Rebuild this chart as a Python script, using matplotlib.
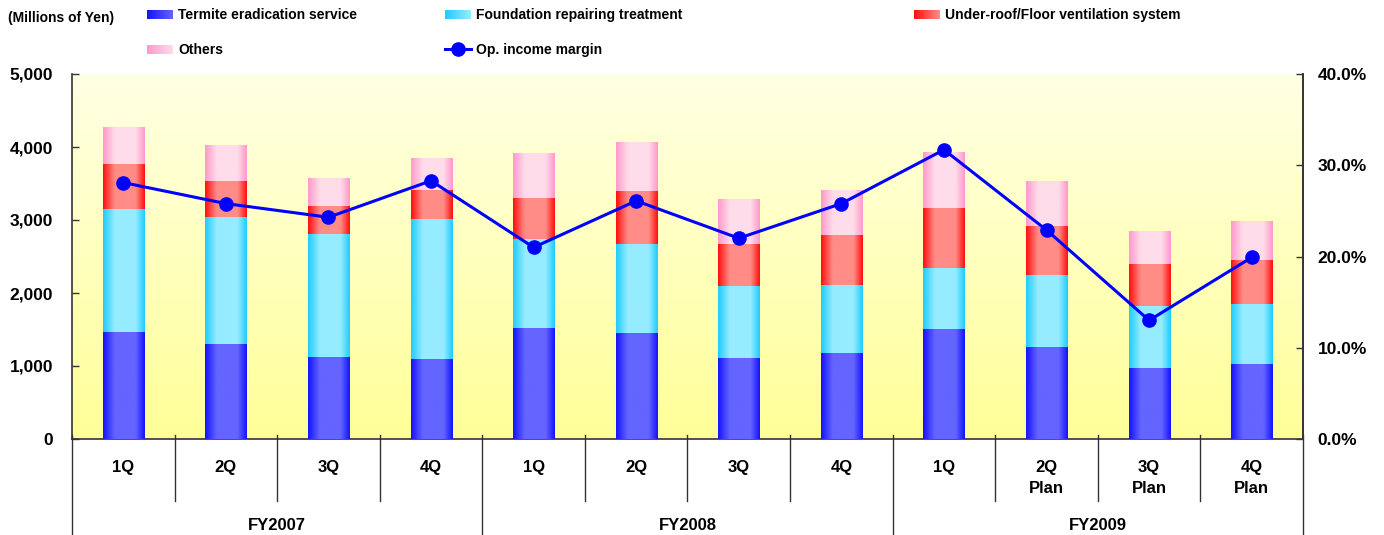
import numpy as np
import matplotlib
matplotlib.use("Agg")
import matplotlib.pyplot as plt
import matplotlib.transforms as mtransforms
from matplotlib.patches import Rectangle
from matplotlib.legend_handler import HandlerBase
from matplotlib.ticker import FuncFormatter

# quarterly sales by business (millions of yen) and operating income margin (%)
quarters = ["1Q", "2Q", "3Q", "4Q", "1Q", "2Q", "3Q", "4Q",
            "1Q", "2Q\nPlan", "3Q\nPlan", "4Q\nPlan"]
years = ["FY2007", "FY2008", "FY2009"]
termite = [1466, 1301, 1123, 1096, 1521, 1452, 1110, 1178, 1507, 1260, 973, 1027]
foundation = [1685, 1740, 1685, 1918, 1214, 1219, 986, 932, 835, 987, 849, 822]
ventilation = [620, 493, 384, 397, 566, 726, 575, 685, 822, 671, 575, 603]
others = [503, 480, 370, 438, 603, 671, 603, 616, 754, 603, 452, 521]
margin = [28.1, 25.8, 24.3, 28.3, 21.0, 26.1, 22.0, 25.8, 31.7, 22.9, 13.0, 19.9]

series_names = ["Termite eradication service", "Foundation repairing treatment",
                "Under-roof/Floor ventilation system", "Others"]
# (edge colour, centre colour) for the shaded bars
shades = [("#1414ff", "#6464ff"),
          ("#20ccff", "#96ecff"),
          ("#ff1010", "#ff8c86"),
          ("#ff99cc", "#ffdce9")]

plt.rcParams["font.family"] = ["Liberation Sans", "DejaVu Sans"]
plt.rcParams["font.weight"] = "bold"
plt.rcParams["font.size"] = 10

def hex2rgb(h):
    return np.array([int(h[i:i + 2], 16) for i in (1, 3, 5)]) / 255.0

def bar_gradient(edge, centre, n=80):
    t = np.linspace(0, 1, n)
    w = np.clip(np.minimum(t / 0.28, (1 - t) / 0.22), 0, 1)
    e, c = hex2rgb(edge), hex2rgb(centre)
    return (e[None, :] * (1 - w[:, None]) + c[None, :] * w[:, None])[None, :, :]

def swatch_gradient(edge, centre, n=40):
    t = np.linspace(0, 1, n)
    e, c = hex2rgb(edge), hex2rgb(centre)
    return e[None, :] * (1 - t[:, None]) + c[None, :] * t[:, None]

class GradientHandler(HandlerBase):
    def __init__(self, edge, centre):
        super().__init__()
        self.cols = swatch_gradient(edge, centre)

    def create_artists(self, legend, orig_handle, xdescent, ydescent,
                       width, height, fontsize, trans):
        n = len(self.cols)
        arts = []
        for k, col in enumerate(self.cols):
            r = Rectangle((-xdescent + width * k / n, -ydescent + height * 0.05),
                          width / n * 1.05, height * 0.85, facecolor=col,
                          edgecolor="none", transform=trans)
            arts.append(r)
        return arts

fig = plt.figure(figsize=(13.84, 5.35), dpi=100)
ax = fig.add_axes([72 / 1384, 96 / 535, 1231 / 1384, 365 / 535])

# pale yellow background fading to white at the top
bg_top, bg_bot = hex2rgb("#ffffe4"), hex2rgb("#ffff98")
tt = np.linspace(0, 1, 200)[:, None]
bg = (bg_top[None, :] * (1 - tt) + bg_bot[None, :] * tt)[:, None, :]
ax.imshow(bg, extent=[0, 1, 0, 1], transform=ax.transAxes, aspect="auto",
          zorder=0, interpolation="bilinear")

x = np.arange(len(quarters))
bottom = np.zeros(len(quarters))
for vals, (edge, centre) in zip([termite, foundation, ventilation, others], shades):
    bars = ax.bar(x, vals, width=0.4, bottom=bottom, color=edge, zorder=2)
    grad = bar_gradient(edge, centre)
    for p in bars:
        ax.imshow(grad, extent=[p.get_x(), p.get_x() + p.get_width(),
                                p.get_y(), p.get_y() + p.get_height()],
                  aspect="auto", zorder=3, interpolation="bilinear")
    bottom += np.array(vals)

ax.set_xlim(-0.5, len(quarters) - 0.5)
ax.set_ylim(0, 5000)
ax.set_yticks(range(0, 5001, 1000))
ax.yaxis.set_major_formatter(FuncFormatter(lambda v, p: f"{int(v):,}"))
ax.set_xticks([])
ax.tick_params(axis="y", direction="in", length=5, width=1, color="#333333",
               pad=13.5, labelsize=12.5)
ax.spines["top"].set_visible(False)
for s in ["left", "right", "bottom"]:
    ax.spines[s].set_color("#333333")
    ax.spines[s].set_linewidth(1.2)

ax2 = ax.twinx()
ax2.set_ylim(0, 40)
ax2.set_yticks(range(0, 41, 10))
ax2.yaxis.set_major_formatter(FuncFormatter(lambda v, p: f"{v:.1f}%"))
ax2.tick_params(axis="y", direction="in", length=5, width=1, color="#333333",
                pad=10.5, labelsize=12.5)
for s in ["top", "left", "bottom"]:
    ax2.spines[s].set_visible(False)
ax2.spines["right"].set_color("#333333")
ax2.spines["right"].set_linewidth(1.2)
line, = ax2.plot(x, margin, color="#0000ff", lw=2.2, marker="o", ms=9.5,
                 markerfacecolor="#0000ff", markeredgecolor="#0000ff", zorder=5)

# two-level category axis: quarters, then fiscal years
tr = mtransforms.blended_transform_factory(ax.transData, ax.transAxes)
for i, q in enumerate(quarters):
    ax.text(i, -0.057, q, transform=tr, ha="center", va="top",
            linespacing=1.5, fontsize=12)
for j, fy in enumerate(years):
    ax.text(j * 4 + 1.5, -0.238, fy, transform=tr, ha="center", va="center",
            fontsize=12)
for b in np.arange(-0.5, len(quarters), 1.0):
    yb = -0.263 if (b + 0.5) % 4 == 0 else -0.17
    ax.plot([b, b], [0.012, yb], transform=tr, color="#333333", lw=1.0,
            clip_on=False, zorder=6)

fig.text(8 / 1384, 1 - 18 / 535, "(Millions of Yen)", ha="left", va="center",
         fontsize=10)

proxies = [Rectangle((0, 0), 1, 1) for _ in range(4)]
handler_map = {proxies[k]: GradientHandler(*shades[k]) for k in range(4)}
leg_opts = dict(loc="upper left", frameon=False, handlelength=1.9,
                handletextpad=0.36, labelspacing=1.52, borderpad=0,
                borderaxespad=0, fontsize=10, handler_map=handler_map)
fig.legend([proxies[0], proxies[3]], [series_names[0], series_names[3]],
           bbox_to_anchor=(147 / 1384, 1 - 8 / 535), **leg_opts)
fig.legend([proxies[1], line], [series_names[1], "Op. income margin"],
           bbox_to_anchor=(445 / 1384, 1 - 8 / 535), **leg_opts)
fig.legend([proxies[2]], [series_names[2]],
           bbox_to_anchor=(914 / 1384, 1 - 8 / 535), **leg_opts)

fig.savefig("out.png", dpi=100)
